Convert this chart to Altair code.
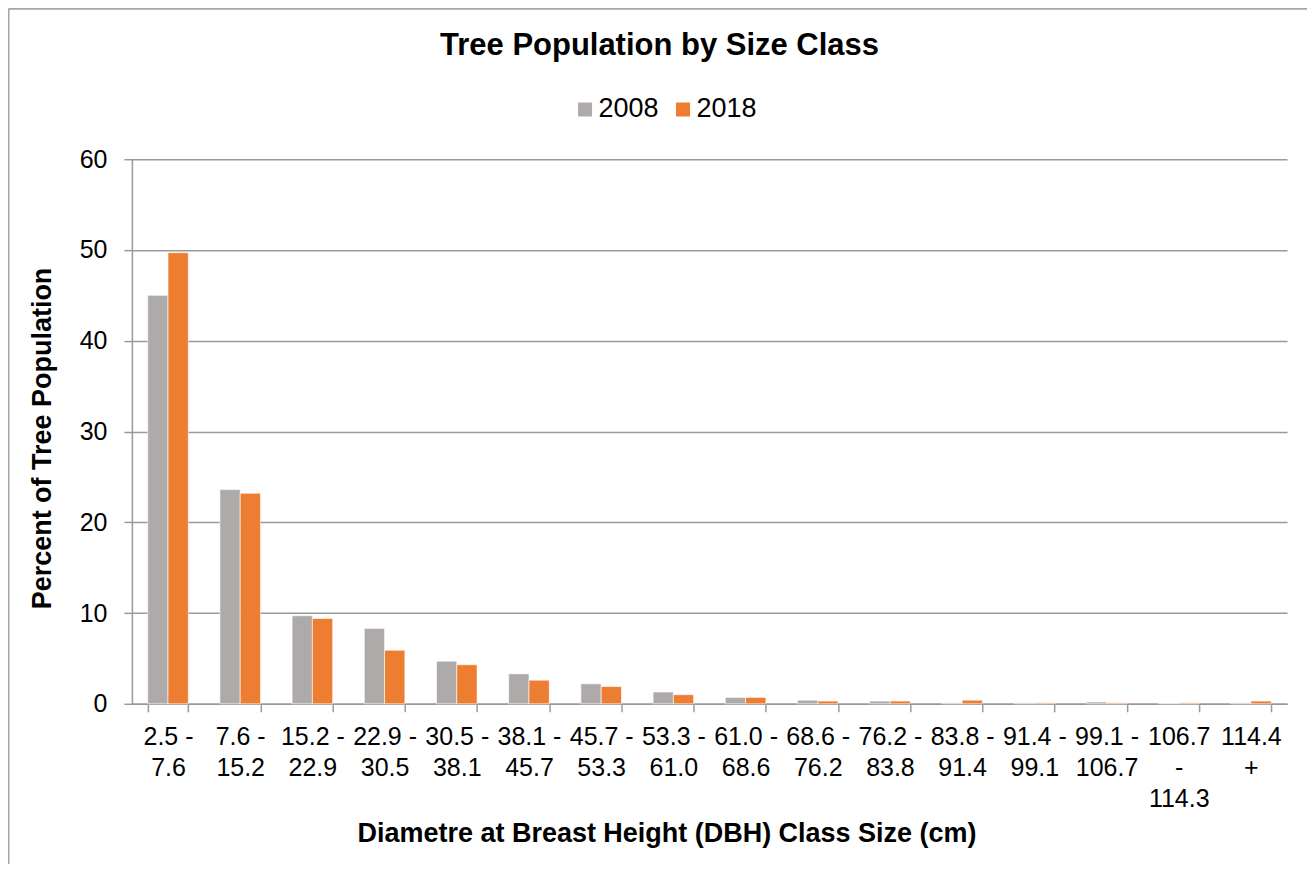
import altair as alt
import pandas as pd

categories = ["2.5 -\n7.6", "7.6 -\n15.2", "15.2 -\n22.9", "22.9 -\n30.5",
              "30.5 -\n38.1", "38.1 -\n45.7", "45.7 -\n53.3", "53.3 -\n61.0",
              "61.0 -\n68.6", "68.6 -\n76.2", "76.2 -\n83.8", "83.8 -\n91.4",
              "91.4 -\n99.1", "99.1 -\n106.7", "106.7\n-\n114.3", "114.4\n+"]
years = ["2008", "2018"]
values_2008 = [45.0, 23.6, 9.7, 8.3, 4.7, 3.3, 2.2, 1.3, 0.7, 0.4, 0.3, 0.1, 0.1, 0.2, 0.05, 0.1]
values_2018 = [49.7, 23.2, 9.4, 5.9, 4.3, 2.6, 1.9, 1.0, 0.7, 0.3, 0.3, 0.4, 0.1, 0.1, 0.1, 0.3]
y_ticks = [0, 10, 20, 30, 40, 50, 60]
colors = ["#AEAAAA", "#ED7D31"]

rows = []
for c, v in zip(categories, values_2008):
    rows.append({"cat": c, "year": "2008", "value": v})
for c, v in zip(categories, values_2018):
    rows.append({"cat": c, "year": "2018", "value": v})
df = pd.DataFrame(rows)

AX = "#999999"

bars = alt.Chart(df).mark_bar(stroke="white", strokeWidth=1, strokeOpacity=0.6).encode(
    x=alt.X("cat:N", sort=categories,
            scale=alt.Scale(paddingInner=0.438, paddingOuter=0.219),
            axis=alt.Axis(title="Diametre at Breast Height (DBH) Class Size (cm)",
                          labelExpr="isValid(datum.value) ? split(datum.value, '\\n') : ''",
                          labelAngle=0, labelFontSize=25, labelLineHeight=31,
                          labelPadding=13, labelColor="black", labelOverlap=False,
                          tickBand="extent", tickSize=8, tickColor=AX, tickWidth=1.5,
                          domainColor=AX, domainWidth=1.5, grid=False,
                          titleFontSize=27, titleFontWeight="bold", titleColor="black",
                          titleX=535, titleY=130, titleAlign="center",
                          titleBaseline="middle")),
    xOffset=alt.XOffset("year:N", sort=years,
                        scale=alt.Scale(paddingInner=0, paddingOuter=0)),
    y=alt.Y("value:Q", scale=alt.Scale(domain=[0, 60]),
            axis=alt.Axis(title="Percent of Tree Population", values=y_ticks,
                          labelFontSize=25, labelPadding=17, labelColor="black",
                          tickSize=8, tickColor=AX, tickWidth=1.5,
                          domainColor=AX, domainWidth=1.5,
                          grid=True, gridColor=AX, gridWidth=1.5,
                          titleFontSize=27, titleFontWeight="bold", titleColor="black",
                          titleX=-89, titleY=279, titleAlign="center",
                          titleBaseline="middle", titleAngle=-90)),
    color=alt.Color("year:N", sort=years,
                    scale=alt.Scale(domain=years, range=colors),
                    legend=alt.Legend(title=None, orient="none", direction="horizontal",
                                      legendX=440, legendY=-63.5, symbolType="square",
                                      symbolSize=196, symbolStrokeWidth=0,
                                      labelFontSize=27, labelOffset=0, labelColor="black",
                                      columnPadding=10, padding=0)),
)

frame_df = pd.DataFrame({"a": [0]})
frame_v = alt.Chart(frame_df).mark_rule(color="#A6A6A6", strokeWidth=2).encode(
    x=alt.value(-123.5), y=alt.value(-150.5), y2=alt.value(730))
frame_h = alt.Chart(frame_df).mark_rule(color="#A6A6A6", strokeWidth=2).encode(
    x=alt.value(-123.5), x2=alt.value(1200), y=alt.value(-150.5))

chart = alt.layer(bars, frame_v, frame_h).properties(
    width=1156, height=545,
    autosize=alt.AutoSizeParams(type="none"),
    padding={"left": 124, "top": 151, "right": 20, "bottom": 160},
    title=alt.TitleParams("Tree Population by Size Class", fontSize=31,
                          fontWeight="bold", color="black", anchor="middle",
                          baseline="alphabetic", dx=-50, offset=-78),
).configure(font="Liberation Sans").configure_view(strokeWidth=0)

chart.save("out.html", embed_options={"renderer": "svg", "actions": False})
